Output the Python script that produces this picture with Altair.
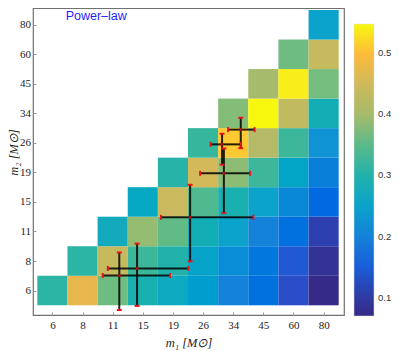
import altair as alt
import pandas as pd

# bin labels (solar masses) for m1 (x) and m2 (y)
m_labels = ["6", "8", "11", "15", "19", "26", "34", "45", "60", "80"]

# cell values, one list per m1 bin, from the lowest m2 bin upward
col_0 = [0.31]
col_1 = [0.475, 0.31]
col_2 = [0.365, 0.44, 0.28]
col_3 = [0.295, 0.325, 0.39, 0.27]
col_4 = [0.275, 0.30, 0.355, 0.445, 0.305]
col_5 = [0.245, 0.255, 0.29, 0.34, 0.455, 0.32]
col_6 = [0.20, 0.22, 0.25, 0.295, 0.385, 0.51, 0.38]
col_7 = [0.175, 0.185, 0.20, 0.25, 0.325, 0.42, 0.548, 0.40]
col_8 = [0.13, 0.145, 0.175, 0.21, 0.26, 0.325, 0.435, 0.54, 0.365]
col_9 = [0.07, 0.085, 0.11, 0.165, 0.195, 0.23, 0.29, 0.37, 0.44, 0.25]
columns = [col_0, col_1, col_2, col_3, col_4, col_5, col_6, col_7, col_8, col_9]

# error bars, in bin coordinates (0 = first bin)
eb_x = [2.22, 2.81, 4.57, 5.69, 5.63, 6.25]
eb_y = [0.51, 0.75, 2.48, 3.97, 4.95, 5.45]
eb_x_lo = [1.67, 1.84, 3.60, 4.90, 5.25, 5.83]
eb_x_hi = [3.90, 4.51, 6.67, 6.56, 6.25, 6.71]
eb_y_lo = [-0.66, -0.52, 0.99, 2.62, 4.26, 4.82]
eb_y_hi = [1.29, 1.59, 3.58, 4.81, 5.31, 5.85]

# annotation
ann_text = ["Power\u2013law"]
ann_x = [0.44]
ann_y = [9.3]

# colour scale (parula-like)
c_stops = [0.07, 0.10, 0.13, 0.16, 0.20, 0.23, 0.25, 0.28, 0.30, 0.325, 0.35,
           0.375, 0.40, 0.425, 0.455, 0.48, 0.50, 0.515, 0.53, 0.548]
c_colors = ["#352a87", "#2f3aa3", "#2a4cc6", "#0c66e0", "#1482d9", "#1093d4",
            "#0ba2cb", "#13aabd", "#22b2ab", "#3db79a", "#5aba8a", "#7cbd7d",
            "#a6bb6b", "#b8ba64", "#d4b95a", "#ecb64a", "#fdbc38", "#fdcf2f",
            "#f9e225", "#f8f80f"]
legend_ticks = [0.1, 0.2, 0.3, 0.4, 0.5]

rows = []
for i, col in enumerate(columns):
    for j, v in enumerate(col):
        rows.append({"x0": i - 0.5, "x1": i + 0.5, "y0": j - 0.5, "y1": j + 0.5, "v": v})
cells = pd.DataFrame(rows)

eb = pd.DataFrame({"x": eb_x, "y": eb_y, "xlo": eb_x_lo, "xhi": eb_x_hi,
                   "ylo": eb_y_lo, "yhi": eb_y_hi})
hcaps = pd.DataFrame({"x": eb_x_lo + eb_x_hi, "y": eb_y + eb_y})
vcaps = pd.DataFrame({"x": eb_x + eb_x, "y": eb_y_lo + eb_y_hi})
ann = pd.DataFrame({"t": ann_text, "x": ann_x, "y": ann_y})

xs = alt.Scale(domain=[-0.643, 9.676], nice=False, zero=False)
ys = alt.Scale(domain=[-0.8285, 9.568], nice=False, zero=False)

lab_expr = "[" + ",".join("'%s'" % s for s in m_labels) + "][datum.value]"

xaxis = alt.Axis(values=list(range(10)), labelExpr=lab_expr, title="m\u2081 [M\u2299]",
                 grid=False, domain=False, tickSize=3, offset=-3, tickColor="#9a9a9a",
                 labelPadding=4, labelFont="Liberation Serif", labelFontSize=11,
                 labelColor="#222222", labelOverlap=False, labelFlush=False,
                 titleFont="Liberation Serif", titleFontSize=12.5,
                 titleFontStyle="italic", titleFontWeight="normal", titleColor="#222222",
                 titleBaseline="middle", titleY=30)
yaxis = alt.Axis(values=list(range(10)), labelExpr=lab_expr, title="m\u2082 [M\u2299]",
                 grid=False, domain=False, tickSize=3, offset=-3, tickColor="#9a9a9a",
                 labelPadding=2.5, labelFont="Liberation Serif", labelFontSize=11,
                 labelColor="#222222", labelOverlap=False, labelFlush=False,
                 titleFont="Liberation Serif", titleFontSize=12.5,
                 titleFontStyle="italic", titleFontWeight="normal", titleColor="#222222",
                 titleBaseline="middle", titleX=-23, titleY=144)


def X(field):
    return alt.X(field, scale=xs, axis=xaxis)


def Y(field):
    return alt.Y(field, scale=ys, axis=yaxis)


rect = alt.Chart(cells).mark_rect(strokeWidth=0).encode(
    x=X("x0:Q"),
    x2="x1:Q",
    y=Y("y0:Q"),
    y2="y1:Q",
    color=alt.Color("v:Q", scale=alt.Scale(domain=c_stops, range=c_colors),
                    legend=alt.Legend(title=None, orient="none", legendX=321, legendY=16,
                                      direction="vertical", gradientLength=292,
                                      gradientThickness=20, values=legend_ticks,
                                      format=".1f", labelFont="Liberation Sans",
                                      labelFontSize=9.5, labelOffset=4,
                                      labelColor="#333333",
                                      gradientStrokeColor="#dddddd",
                                      gradientStrokeWidth=0.5)),
)

hbar = alt.Chart(eb).mark_rule(color="black", strokeWidth=2, opacity=0.85).encode(
    x=X("xlo:Q"), x2="xhi:Q", y=Y("y:Q"))
vbar = alt.Chart(eb).mark_rule(color="black", strokeWidth=2, opacity=0.85).encode(
    x=X("x:Q"), y=Y("ylo:Q"), y2="yhi:Q")
hcap = alt.Chart(hcaps).mark_tick(color="#e8141a", orient="vertical", size=5,
                                  thickness=2, opacity=1).encode(
    x=X("x:Q"), y=Y("y:Q"))
vcap = alt.Chart(vcaps).mark_tick(color="#e8141a", orient="horizontal", size=5,
                                  thickness=2, opacity=1).encode(
    x=X("x:Q"), y=Y("y:Q"))
dots = alt.Chart(eb).mark_point(color="#b01010", filled=True, size=10, opacity=1).encode(
    x=X("x:Q"), y=Y("y:Q"))
text = alt.Chart(ann).mark_text(align="left", baseline="middle", color="#1f1fff",
                                font="Liberation Sans", fontSize=12.5).encode(
    x=X("x:Q"), y=Y("y:Q"), text="t:N")

chart = alt.layer(rect, hbar, vbar, hcap, vcap, dots, text).properties(
    width=311, height=307,
    autosize=alt.AutoSizeParams(type="none"),
    padding={"left": 25, "top": 0, "right": 47, "bottom": 36},
).configure_view(stroke="#707070", strokeWidth=1.2)

chart.save("out.html", embed_options={"renderer": "svg", "actions": False})
